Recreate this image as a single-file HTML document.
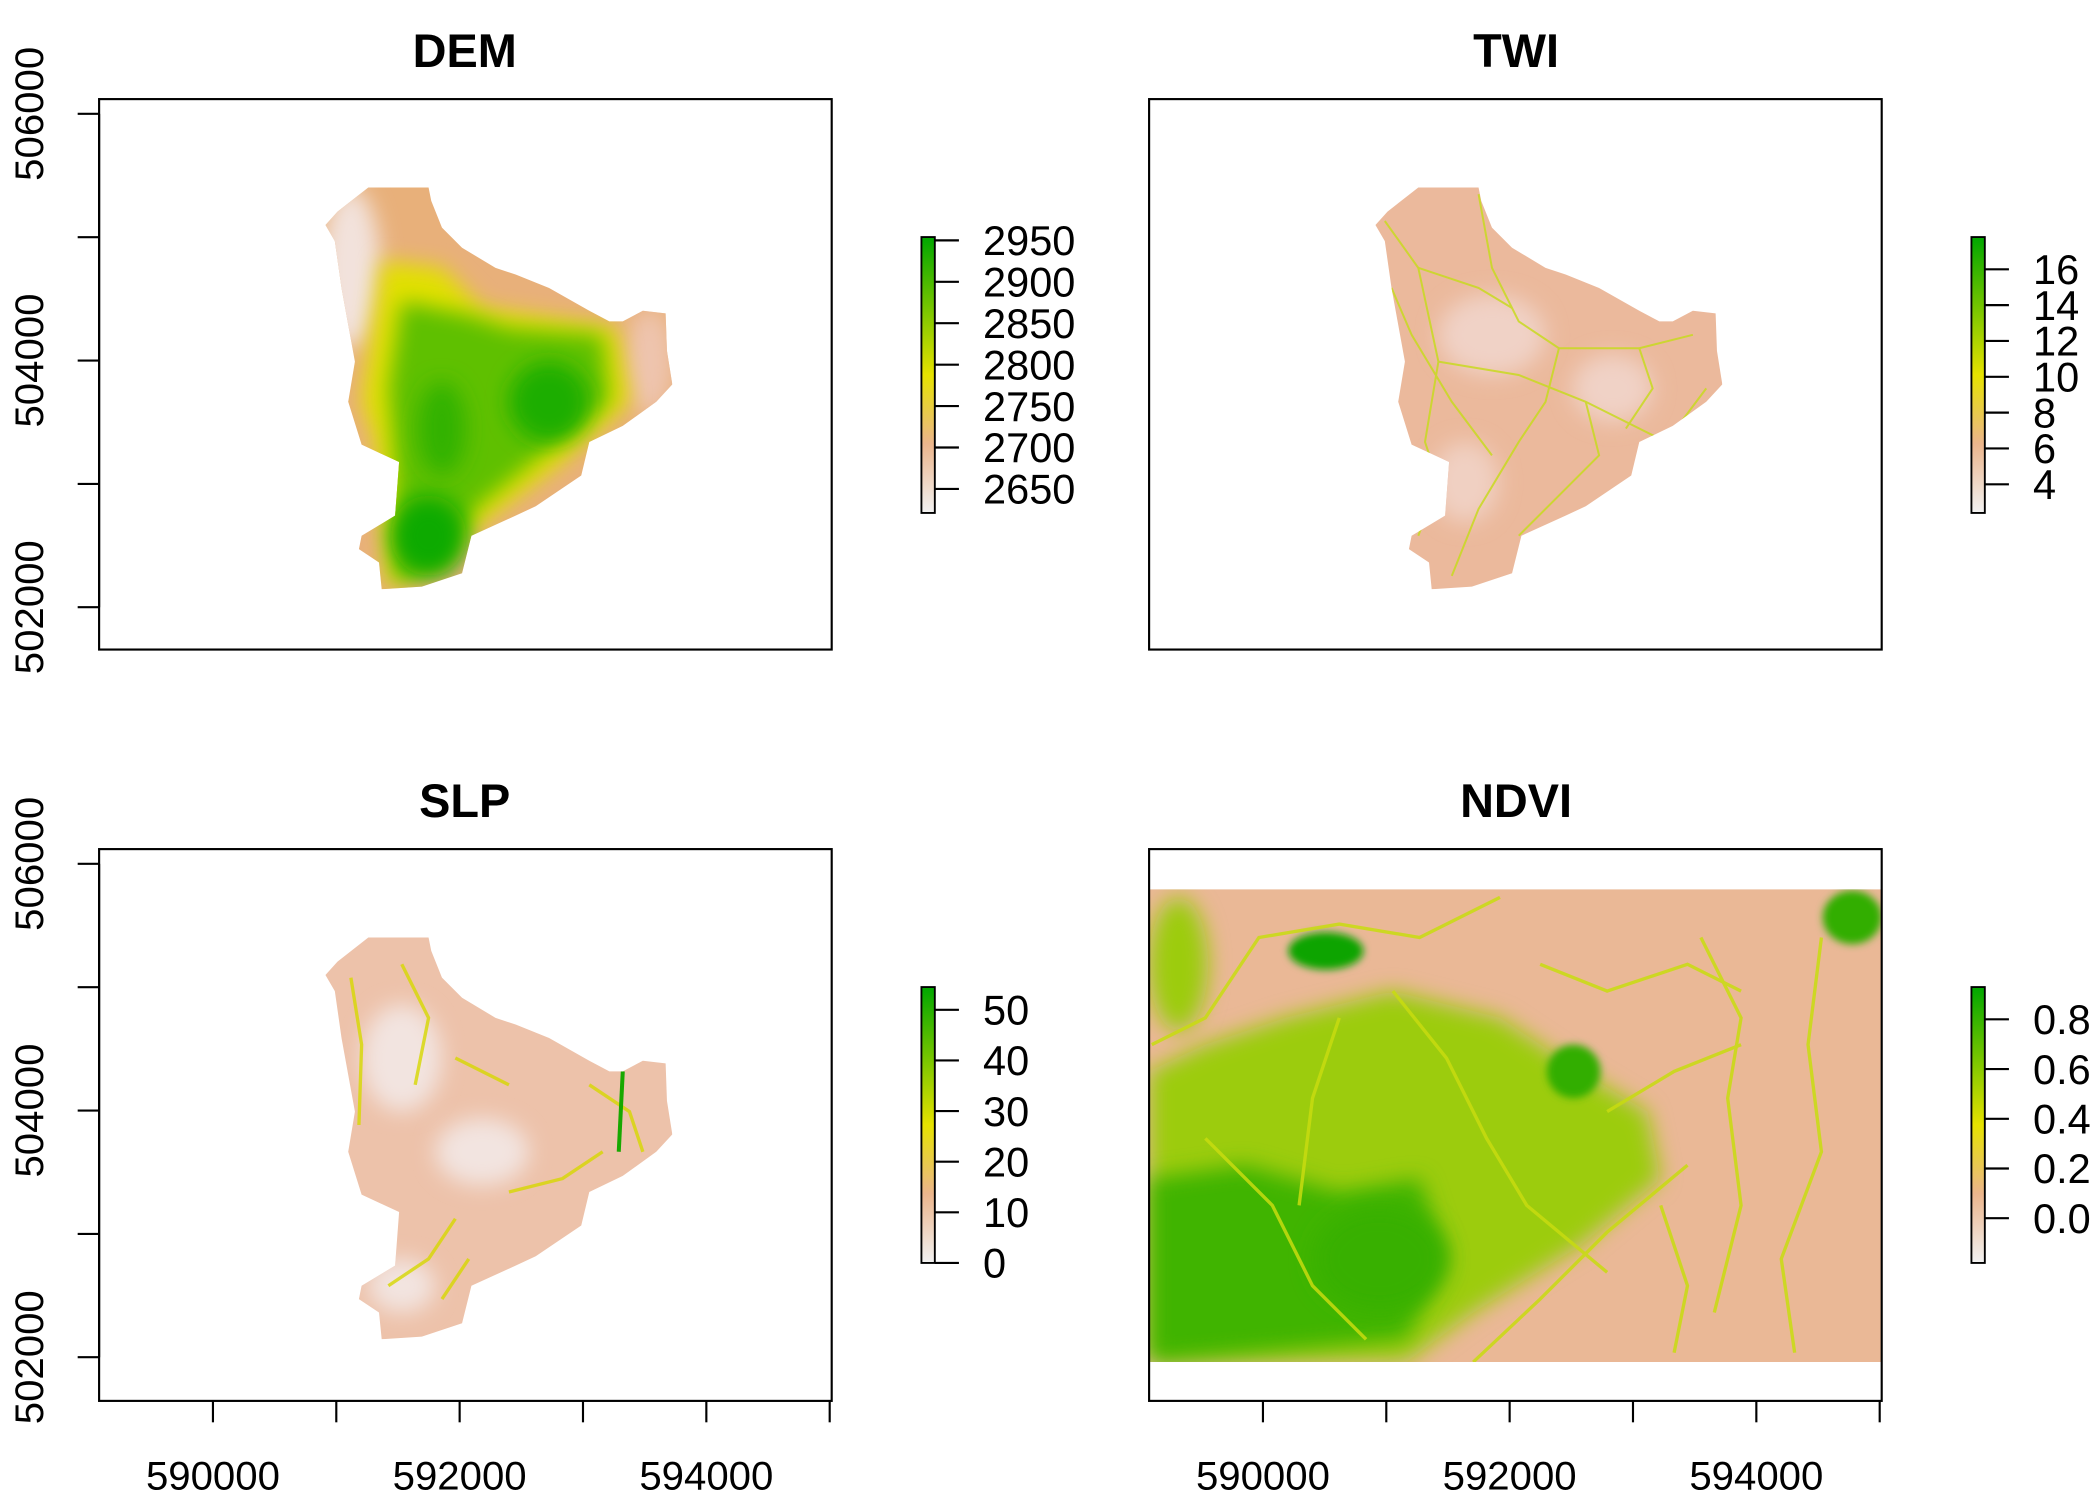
<!DOCTYPE html>
<html><head><meta charset="utf-8"><style>
html,body{margin:0;padding:0;background:#fff;}
svg{display:block;font-family:"Liberation Sans",sans-serif;}
</style></head><body>
<svg id="fig" width="2100" height="1500" viewBox="0 0 1568 1120" xmlns="http://www.w3.org/2000/svg">
<defs>
<linearGradient id="terr" x1="0" y1="1" x2="0" y2="0">
<stop offset="0" stop-color="#F2F2F2"/><stop offset="0.25" stop-color="#EBB58C"/><stop offset="0.5" stop-color="#E6E200"/><stop offset="1" stop-color="#00A600"/>
</linearGradient>
<filter id="blur8" x="-50%" y="-50%" width="200%" height="200%"><feGaussianBlur stdDeviation="8"/></filter>
<filter id="blur4" x="-50%" y="-50%" width="200%" height="200%"><feGaussianBlur stdDeviation="3"/></filter>
<path id="shed" d="M275,140 L320,140 L322,150 L330,170 L345,185 L370,200 L385,205 L410,215 L440,232 L455,240 L465,240 L480,232 L497,234 L498,262 L502,287 L490,300 L465,318 L440,330 L434,355 L400,378 L385,385 L352,400 L345,428 L315,438 L285,440 L283,420 L268,410 L270,400 L295,385 L298,345 L270,332 L260,300 L265,270 L255,215 L250,180 L243,168 L252,158 Z"/>
<clipPath id="clipDem"><use href="#shed"/></clipPath>
<clipPath id="clipNdvi"><rect x="858" y="664" width="547" height="353"/></clipPath>
</defs>

<!-- DEM -->
<g>
<text x="347" y="50" font-size="35" font-weight="bold" text-anchor="middle">DEM</text>
<g clip-path="url(#clipDem)">
<rect x="230" y="130" width="290" height="320" fill="#E8B07A"/>
<ellipse cx="262" cy="200" rx="22" ry="60" fill="#F2E2DC" filter="url(#blur8)"/>
<ellipse cx="485" cy="270" rx="18" ry="40" fill="#EEC4AE" filter="url(#blur8)"/>
<path d="M285,195 L330,200 L360,230 L460,245 L470,300 L420,345 L360,390 L330,420 L290,440 L280,330 L270,300 Z" fill="#E2E000" filter="url(#blur8)"/>
<path d="M300,225 L350,235 L380,245 L450,250 L455,300 L410,335 L355,380 L330,425 L295,435 L295,350 L290,290 Z" fill="#5EC000" filter="url(#blur8)"/>
<ellipse cx="410" cy="300" rx="30" ry="30" fill="#1EAE00" filter="url(#blur8)"/>
<ellipse cx="320" cy="400" rx="28" ry="30" fill="#10AA00" filter="url(#blur8)"/>
<ellipse cx="330" cy="320" rx="18" ry="35" fill="#30B200" filter="url(#blur8)"/>
</g>
<rect x="74" y="74" width="547" height="411" fill="none" stroke="#000" stroke-width="1.6"/>
<g id="legDem"></g>
</g>

<!-- TWI -->
<g>
<text x="1132" y="50" font-size="35" font-weight="bold" text-anchor="middle">TWI</text>
<g transform="translate(784,0)">
<g clip-path="url(#clipDem)">
<rect x="230" y="130" width="290" height="320" fill="#EBB99C"/>
<ellipse cx="330" cy="250" rx="40" ry="30" fill="#F0D2C6" filter="url(#blur8)"/>
<ellipse cx="420" cy="290" rx="30" ry="25" fill="#F0D2C6" filter="url(#blur8)"/>
<ellipse cx="310" cy="360" rx="25" ry="30" fill="#F0D0C2" filter="url(#blur8)"/>
<g fill="none" stroke="#C8DA20" stroke-width="1.5" opacity="0.85">
<path d="M250,165 L275,200 L290,270 L280,330 L290,360 L275,400"/>
<path d="M320,145 L330,200 L350,240 L380,260 L440,260 L480,250"/>
<path d="M275,200 L320,215 L345,230"/>
<path d="M290,270 L350,280 L400,300 L460,330 L490,290"/>
<path d="M380,260 L370,300 L350,330 L320,380 L300,430"/>
<path d="M400,300 L410,340 L380,370 L350,400"/>
<path d="M255,215 L270,250 L300,300 L330,340"/>
<path d="M440,260 L450,290 L430,320"/>
</g>
</g></g>
<rect x="858" y="74" width="547" height="411" fill="none" stroke="#000" stroke-width="1.6"/>
<g id="legTwi"></g>
</g>

<!-- SLP -->
<g>
<text x="347" y="610" font-size="35" font-weight="bold" text-anchor="middle">SLP</text>
<g transform="translate(0,560)">
<g clip-path="url(#clipDem)">
<rect x="230" y="130" width="290" height="320" fill="#EDC2AA"/>
<ellipse cx="300" cy="230" rx="30" ry="40" fill="#F2E4E0" filter="url(#blur8)"/>
<ellipse cx="360" cy="300" rx="35" ry="25" fill="#F2E4E0" filter="url(#blur8)"/>
<ellipse cx="300" cy="400" rx="25" ry="20" fill="#F2E4E0" filter="url(#blur8)"/>
<g fill="none" stroke="#D6D800" stroke-width="2.5" opacity="0.8">
<path d="M262,170 L270,220 L268,280"/>
<path d="M300,160 L320,200 L310,250"/>
<path d="M380,330 L420,320 L450,300"/>
<path d="M290,400 L320,380 L340,350"/>
<path d="M330,410 L350,380"/>
<path d="M440,250 L470,270 L480,300"/>
<path d="M340,230 L380,250"/>
</g>
<path d="M465,240 L462,300" stroke="#18A800" stroke-width="3" fill="none"/>
</g></g>
<rect x="74" y="634" width="547" height="412" fill="none" stroke="#000" stroke-width="1.6"/>
<g id="legSlp"></g>
</g>

<!-- NDVI -->
<g>
<text x="1132" y="610" font-size="35" font-weight="bold" text-anchor="middle">NDVI</text>
<g clip-path="url(#clipNdvi)">
<rect x="858" y="664" width="547" height="353" fill="#EAB896"/>
<path d="M858,800 L900,780 L960,760 L1040,740 L1120,760 L1180,800 L1230,830 L1240,880 L1180,930 L1100,980 L1050,1017 L858,1017 Z" fill="#9CCC10" filter="url(#blur8)"/>
<path d="M858,880 L930,870 L1000,890 L1060,880 L1080,940 L1050,1000 L858,1017 Z" fill="#40B400" filter="url(#blur8)"/>
<ellipse cx="990" cy="710" rx="28" ry="14" fill="#10A400" filter="url(#blur4)"/>
<ellipse cx="1175" cy="800" rx="20" ry="20" fill="#30AE00" filter="url(#blur4)"/>
<ellipse cx="1383" cy="685" rx="22" ry="20" fill="#30AE00" filter="url(#blur4)"/>
<ellipse cx="880" cy="720" rx="22" ry="50" fill="#9CCC10" filter="url(#blur8)"/>
<ellipse cx="1030" cy="940" rx="50" ry="40" fill="#38B000" filter="url(#blur8)"/>
<g fill="none" stroke="#C8DC10" stroke-width="2.5" opacity="0.85">
<path d="M860,780 L900,760 L940,700 L1000,690 L1060,700 L1120,670"/>
<path d="M1040,740 L1080,790 L1110,850 L1140,900 L1200,950"/>
<path d="M1260,870 L1200,920 L1150,970 L1100,1017"/>
<path d="M1270,700 L1300,760 L1290,820 L1300,900 L1280,980"/>
<path d="M1360,700 L1350,780 L1360,860 L1330,940 L1340,1010"/>
<path d="M1200,830 L1250,800 L1300,780"/>
<path d="M1150,720 L1200,740 L1260,720 L1300,740"/>
<path d="M900,850 L950,900 L980,960 L1020,1000"/>
<path d="M1240,900 L1260,960 L1250,1010"/>
<path d="M1000,760 L980,820 L970,900"/>
</g>
</g>
<rect x="858" y="634" width="547" height="412" fill="none" stroke="#000" stroke-width="1.6"/>
<g id="legNdvi"></g>
</g>

<g id="axes"></g>
</svg>
<script>
const yTickValues = [502000, 503000, 504000, 505000, 506000];
const yTickLabels = ["502000", "", "504000", "", "506000"];
const xTickValues = [590000, 591000, 592000, 593000, 594000, 595000];
const xTickLabels = ["590000", "", "592000", "", "594000", ""];
const demLegendValues = [2650, 2700, 2750, 2800, 2850, 2900, 2950];
const twiLegendValues = [4, 6, 8, 10, 12, 14, 16];
const slpLegendValues = [0, 10, 20, 30, 40, 50];
const ndviLegendValues = [0.0, 0.2, 0.4, 0.6, 0.8];
const ndviLabels = ["0.0", "0.2", "0.4", "0.6", "0.8"];

const NS = "http://www.w3.org/2000/svg";
function mk(tag, attrs, parent) { const e = document.createElementNS(NS, tag); for (const k in attrs) e.setAttribute(k, attrs[k]); parent.appendChild(e); return e; }
function yScale(v, top) { return top + 85 - (v - 506000) * 0.0921; }
function xScale(v, left) { return left + 159 - 74 + (v - 590000) * 0.0921; }

const axes = document.getElementById('axes');
[74, 634].forEach(function (top) {
  yTickValues.forEach(function (v, i) {
    const y = yScale(v, top - 74);
    const t = mk('line', { x1: 58, x2: 74, y1: y, y2: y, stroke: '#000', 'stroke-width': 1.6 }, axes);
    
    
    if (yTickLabels[i]) {
      const tx = mk('text', { x: 0, y: 0, 'font-size': 30, 'text-anchor': 'middle', transform: 'translate(32,' + y + ') rotate(-90)' }, axes);
      tx.textContent = yTickLabels[i];
      
      
    }
  });
  const ax = mk('line', { x1: 74, x2: 74, y1: yScale(502000, top - 74), y2: yScale(506000, top - 74), stroke: '#000', 'stroke-width': 1.6 }, axes);
  
  
});
[74, 858].forEach(function (left) {
  xTickValues.forEach(function (v, i) {
    const x = xScale(v, left);
    const t = mk('line', { x1: x, x2: x, y1: 1046, y2: 1062, stroke: '#000', 'stroke-width': 1.6 }, axes);
    
    
    if (xTickLabels[i]) {
      const tx = mk('text', { x: x, y: 1112, 'font-size': 30, 'text-anchor': 'middle' }, axes);
      tx.textContent = xTickLabels[i];
      
      
    }
  });
});

function legend(id, x, top, bottom, vmin, vmax, values, labels) {
  const g = document.getElementById(id);
  const bar = mk('rect', { x: x, y: top, width: 10, height: bottom - top, fill: 'url(#terr)', stroke: '#000', 'stroke-width': 1.4 }, g);
  
  
  values.forEach(function (v, i) {
    const y = bottom - (v - vmin) / (vmax - vmin) * (bottom - top);
    const t = mk('line', { x1: x + 10, x2: x + 28, y1: y, y2: y, stroke: '#000', 'stroke-width': 1.6 }, g);
    
    
    const tx = mk('text', { x: x + 46, y: y + 11, 'font-size': 31 }, g);
    tx.textContent = labels ? labels[i] : String(v);
    
    
  });
}
legend('legDem', 688, 177, 383, 2621, 2954, demLegendValues);
legend('legTwi', 1472, 177, 383, 2.4, 17.8, twiLegendValues);
legend('legSlp', 688, 737, 943, 0, 54.5, slpLegendValues);
legend('legNdvi', 1472, 737, 943, -0.18, 0.93, ndviLegendValues, ndviLabels);
</script>
</body></html>
